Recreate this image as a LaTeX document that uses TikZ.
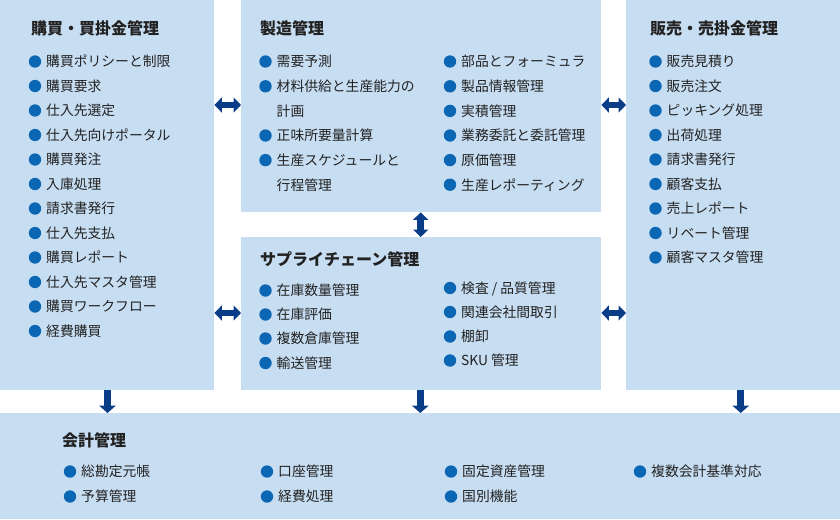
\documentclass[tikz,border=0pt]{standalone}
\usepackage{fontspec}
\setmainfont{Noto Sans CJK JP}
\usetikzlibrary{arrows.meta}
\definecolor{panelblue}{HTML}{C7DDF2}
\definecolor{bulletblue}{HTML}{0B67B3}
\definecolor{arrowblue}{HTML}{0A3D88}
\definecolor{txt}{HTML}{222222}
\newcommand\itm[4]{%
  \node[bul] (#1b) at (#2-11,#3) {};
  \node[itm] (#1) at (#2,#3+5.3) {#4};}
\newcommand\ttl[4]{\node[ttlstyle] (#1) at (#2,#3+6) {#4};}
\begin{document}
\begin{tikzpicture}[x=1pt,y=-1pt,
  panel/.style={fill=panelblue, draw=none, anchor=north west, inner sep=0pt},
  bul/.style={circle, fill=bulletblue, minimum size=12.4pt, inner sep=0pt},
  itm/.style={anchor=base west, inner sep=0pt, text=txt, font=\fontsize{13.8pt}{14pt}\selectfont},
  ttlstyle/.style={anchor=base west, inner sep=0pt, text=txt, font=\fontsize{16pt}{17pt}\selectfont\bfseries},
  dbl/.style={arrowblue, line width=6.5pt, {Triangle[length=7.5pt,width=15pt]}-{Triangle[length=7.5pt,width=15pt]}},
  downarr/.style={arrowblue, line width=7.5pt, -{Triangle[length=7.5pt,width=16.5pt]}}]
\useasboundingbox (0,0) rectangle (840,519);
\fill[white] (0,0) rectangle (840,519);
% panels
\node[panel, minimum width=214pt, minimum height=390pt] (L) at (0,0) {};
\node[panel, minimum width=360pt, minimum height=212pt] (MT) at (241,0) {};
\node[panel, minimum width=360pt, minimum height=153pt] (MB) at (241,237) {};
\node[panel, minimum width=214pt, minimum height=390pt] (R) at (626,0) {};
\node[panel, minimum width=840pt, minimum height=106pt] (B) at (0,413) {};
% left panel
\ttl{tL}{31}{28.5}{購買・買掛金管理}
\itm{l1}{46}{61.5}{購買ポリシーと制限}
\itm{l2}{46}{86}{購買要求}
\itm{l3}{46}{110.5}{仕入先選定}
\itm{l4}{46}{135}{仕入先向けポータル}
\itm{l5}{46}{159.5}{購買発注}
\itm{l6}{46}{184}{入庫処理}
\itm{l7}{46}{208.5}{請求書発行}
\itm{l8}{46}{233}{仕入先支払}
\itm{l9}{46}{257.5}{購買レポート}
\itm{l10}{46}{282}{仕入先マスタ管理}
\itm{l11}{46}{306.5}{購買ワークフロー}
\itm{l12}{46}{331}{経費購買}
% middle top
\ttl{tMT}{260}{28.5}{製造管理}
\itm{m1}{276.5}{61.5}{需要予測}
\itm{m2}{276.5}{86.3}{材料供給と生産能力の}
\node[itm] (m2c) at (276.5,110.9+5.3) {計画};
\itm{m3}{276.5}{135.5}{正味所要量計算}
\itm{m4}{276.5}{160.1}{生産スケジュールと}
\node[itm] (m4c) at (276.5,184.7+5.3) {行程管理};
\itm{n1}{461}{61.5}{部品とフォーミュラ}
\itm{n2}{461}{86.3}{製品情報管理}
\itm{n3}{461}{110.9}{実積管理}
\itm{n4}{461}{135.5}{業務委託と委託管理}
\itm{n5}{461}{160.1}{原価管理}
\itm{n6}{461}{184.7}{生産レポーティング}
% middle bottom
\ttl{tMB}{260}{259}{サプライチェーン管理}
\itm{s1}{276.5}{290.5}{在庫数量管理}
\itm{s2}{276.5}{314.5}{在庫評価}
\itm{s3}{276.5}{338.5}{複数倉庫管理}
\itm{s4}{276.5}{363}{輸送管理}
\itm{t1}{461}{288}{検査 / 品質管理}
\itm{t2}{461}{312}{関連会社間取引}
\itm{t3}{461}{336.5}{棚卸}
\itm{t4}{461}{360.5}{SKU 管理}
% right panel
\ttl{tR}{650}{28.5}{販売・売掛金管理}
\itm{r1}{666.5}{61.5}{販売見積り}
\itm{r2}{666.5}{86}{販売注文}
\itm{r3}{666.5}{110.5}{ピッキング処理}
\itm{r4}{666.5}{135}{出荷処理}
\itm{r5}{666.5}{159.5}{請求書発行}
\itm{r6}{666.5}{184}{顧客支払}
\itm{r7}{666.5}{208.5}{売上レポート}
\itm{r8}{666.5}{233}{リベート管理}
\itm{r9}{666.5}{257.5}{顧客マスタ管理}
% bottom panel
\ttl{tB}{62}{440}{会計管理}
\itm{b1}{81}{471.5}{総勘定元帳}
\itm{b2}{81}{496.5}{予算管理}
\itm{b3}{278}{471.5}{口座管理}
\itm{b4}{278}{496.5}{経費処理}
\itm{b5}{462}{471.5}{固定資産管理}
\itm{b6}{462}{496.5}{国別機能}
\itm{b7}{651}{471.5}{複数会計基準対応}
% arrows
\coordinate (ya) at (0,105);
\coordinate (yb) at (0,313);
\draw[dbl] (L.east |- ya) -- (MT.west |- ya);
\draw[dbl] (MT.east |- ya) -- (R.west |- ya);
\draw[dbl] (L.east |- yb) -- (MB.west |- yb);
\draw[dbl] (MB.east |- yb) -- (R.west |- yb);
\draw[dbl] ([xshift=-0.5pt]MT.south) -- ([xshift=-0.5pt]MB.north);
\coordinate (d1) at (107.5,0);
\coordinate (d2) at (420.3,0);
\coordinate (d3) at (740.7,0);
\draw[downarr] (L.south -| d1) -- (B.north -| d1);
\draw[downarr] (MB.south -| d2) -- (B.north -| d2);
\draw[downarr] (R.south -| d3) -- (B.north -| d3);
\end{tikzpicture}
\end{document}
